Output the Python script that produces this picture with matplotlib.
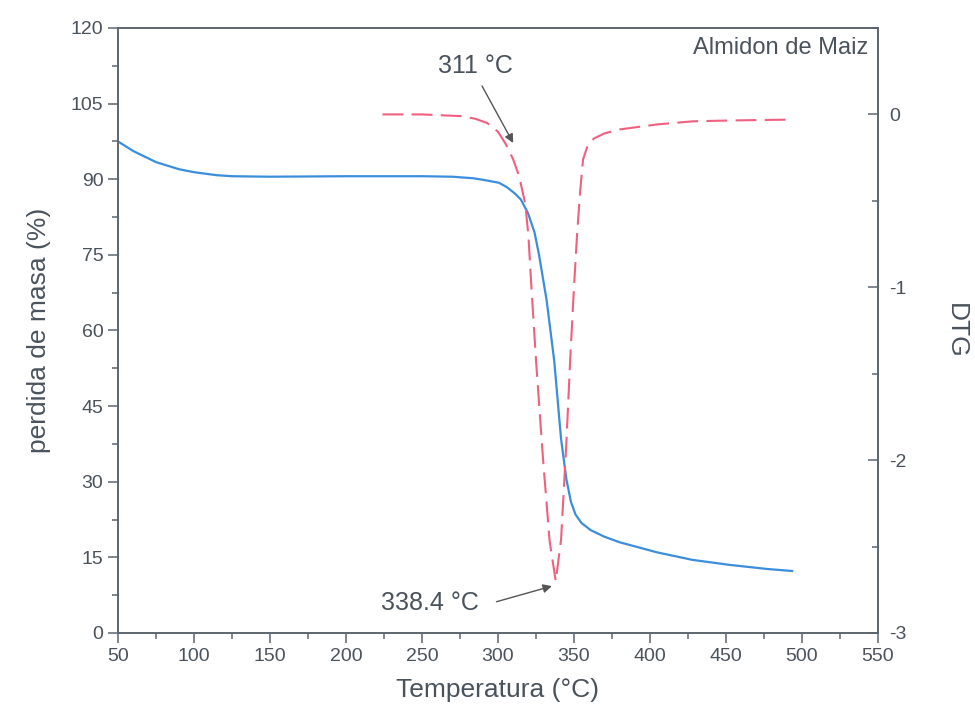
import numpy as np
import matplotlib
matplotlib.use("Agg")
import matplotlib.pyplot as plt
from matplotlib.ticker import MultipleLocator

plt.rcParams['font.family'] = ['Liberation Sans', 'DejaVu Sans']
plt.rcParams['axes.unicode_minus'] = False

# TG curve (mass loss %)
tg_temp = [50, 60, 75, 90, 100, 115, 125, 150, 200, 250, 270, 283.6, 290, 300.7, 306, 311, 315,
           319.7, 324, 327, 332, 337, 341.5, 345, 348, 351, 355, 361, 370, 380, 404.6, 428, 452.6, 477, 493.5]
tg_mass = [97.5, 95.6, 93.4, 92.0, 91.4, 90.8, 90.6, 90.5, 90.6, 90.6, 90.5, 90.2, 89.9, 89.3, 88.4, 87.2, 86.0,
           83.3, 79.5, 75.0, 66.0, 54.0, 38.5, 30.5, 26.0, 23.5, 21.8, 20.4, 19.1, 18.0, 16.0, 14.5, 13.5, 12.7, 12.3]

# DTG curve
dtg_temp = [224, 250, 276, 285, 293, 300, 305, 310, 314, 318, 320, 322, 325, 329.6, 334, 338,
            341.5, 345, 347.5, 350, 352, 354, 356, 359, 363, 370, 380, 404.6, 428, 452.6, 493]
dtg_val = [0.0, 0.0, -0.01, -0.025, -0.05, -0.1, -0.17, -0.26, -0.36, -0.52, -0.7, -1.0, -1.42, -1.99, -2.47, -2.70,
           -2.46, -1.9, -1.42, -1.0, -0.7, -0.45, -0.26, -0.18, -0.14, -0.11, -0.087, -0.058, -0.04, -0.035, -0.03]

txt_col = '#4a525c'
spine_col = '#5c6670'

fig = plt.figure(figsize=(9.75, 7.27), dpi=100)
ax = fig.add_axes([0.121, 0.1293, 0.7795, 0.8322])
ax2 = ax.twinx()

ax.plot(tg_temp, tg_mass, color='#3a8edc', lw=1.6, zorder=3)
ax2.plot(dtg_temp, dtg_val, color='#f0607f', lw=1.5, dashes=(10, 4))

ax.set_xlim(50, 550)
ax.set_ylim(0, 120)
ax2.set_ylim(-3, 0.5)

ax.xaxis.set_major_locator(MultipleLocator(50))
ax.xaxis.set_minor_locator(MultipleLocator(25))
ax.yaxis.set_major_locator(MultipleLocator(15))
ax.yaxis.set_minor_locator(MultipleLocator(7.5))
ax2.yaxis.set_major_locator(MultipleLocator(1))
ax2.yaxis.set_minor_locator(MultipleLocator(0.5))
ax2.set_yticks([0, -1, -2, -3])

for a in (ax, ax2):
    for s in a.spines.values():
        s.set_color(spine_col)
        s.set_linewidth(1.2)

ax.tick_params(which='major', direction='out', length=7, width=1.1, color=spine_col,
               labelsize=14, labelcolor=txt_col)
ax.tick_params(which='minor', direction='out', length=4, width=1.1, color=spine_col)
ax2.tick_params(which='major', direction='in', length=7, width=1.1, color=spine_col,
                labelsize=14, labelcolor=txt_col, pad=8)
ax2.tick_params(which='minor', direction='in', length=4, width=1.1, color=spine_col)

ax.set_xlabel('Temperatura (°C)', fontsize=19, color=txt_col, labelpad=10)
ax.set_ylabel('perdida de masa (%)', fontsize=19, color=txt_col, labelpad=14)
ax2.set_ylabel('DTG', fontsize=19, color=txt_col, rotation=270, labelpad=44)

ax.text(0.987, 0.985, 'Almidon de Maiz', transform=ax.transAxes, ha='right', va='top',
        fontsize=17, color=txt_col)

arrow = dict(arrowstyle='-|>', color='#555555', lw=1, shrinkA=0, shrinkB=0, mutation_scale=13)
ax.text(285, 112.5, '311 °C', ha='center', va='center', fontsize=18, color=txt_col)
ax.annotate('', xy=(310, 97.2), xytext=(289.5, 108.5), arrowprops=arrow)
ax.text(255, 6.0, '338.4 °C', ha='center', va='center', fontsize=18, color=txt_col)
ax.annotate('', xy=(335.5, 9.3), xytext=(299, 6.2), arrowprops=arrow)

fig.savefig('out.png', dpi=100, facecolor='white')
